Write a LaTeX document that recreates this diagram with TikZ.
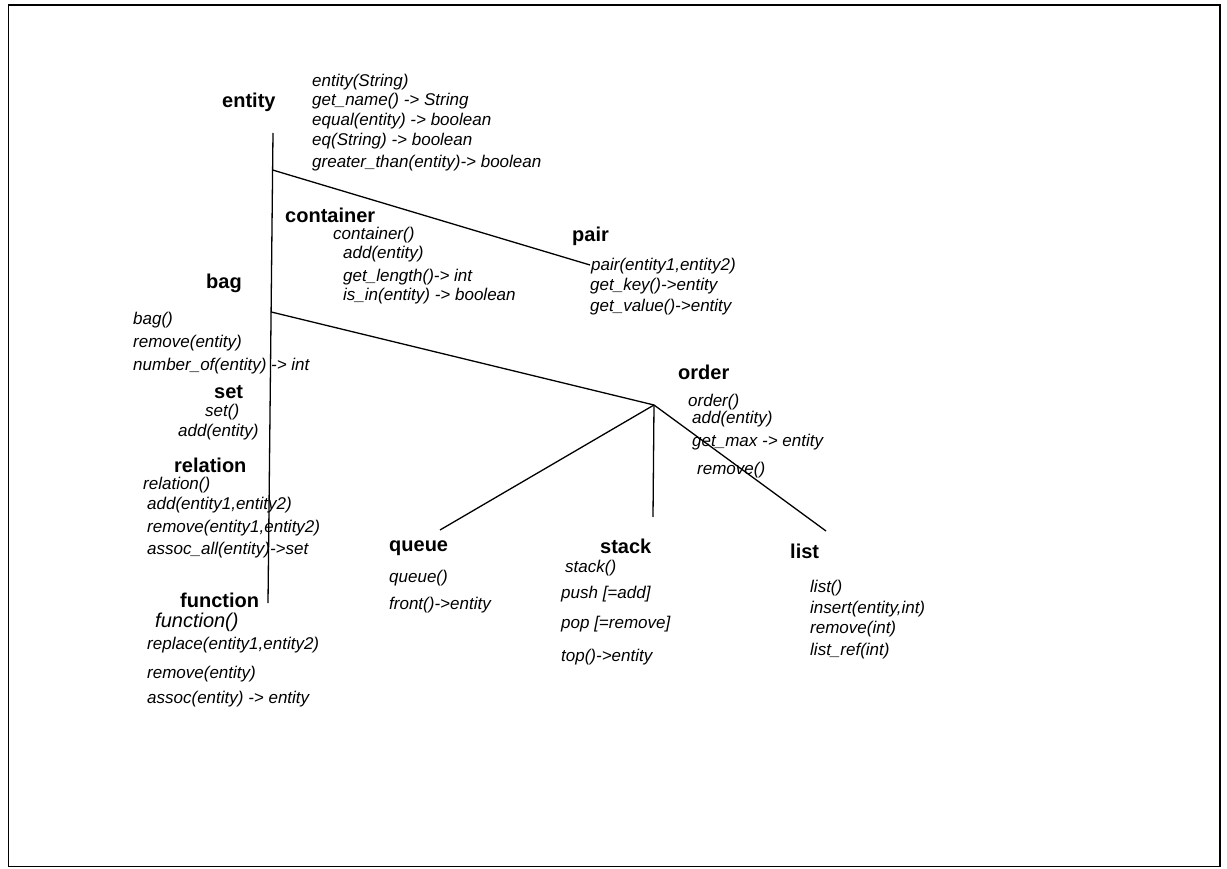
\documentclass[tikz,border=0pt]{standalone}
\usepackage{fontspec}
\setmainfont{Liberation Sans}
\begin{document}
\begin{tikzpicture}[x=1pt,y=-1pt,
  cls/.style={inner sep=0pt,anchor=west,font=\fontsize{20}{22}\selectfont\bfseries},
  mth/.style={inner sep=0pt,anchor=west,font=\fontsize{17}{19}\selectfont\itshape},
  edge/.style={line width=1.3pt,black}]
\useasboundingbox (0,0) rectangle (1227,869);
\draw[line width=1.4pt] (8.5,5) rectangle (1220,866.5);
% class names
\node[cls] (entity) at (222,102) {entity};
\node[cls] (container) at (285,215.5) {container};
\node[cls] (pair) at (572,236) {pair};
\node[cls] (bag) at (206,283) {bag};
\node[cls] (set) at (214,392) {set};
\node[cls] (relation) at (174,465) {relation};
\node[cls] (function) at (180,600.5) {function};
\node[cls] (order) at (678,372) {order};
\node[cls] (queue) at (389,548) {queue};
\node[cls] (stack) at (600,546) {stack};
\node[cls] (list) at (790,551) {list};
% methods
\node[mth] (m1) at (312,82) {entity(String)};
\node[mth] (m2) at (312,101) {get\_name() -> String};
\node[mth] (m3) at (312,121) {equal(entity) -> boolean};
\node[mth] (m4) at (312,141) {eq(String) -> boolean};
\node[mth] (m5) at (312,163) {greater\_than(entity)-> boolean};
\node[mth] (c1) at (333,235) {container()};
\node[mth] (c2) at (343,254) {add(entity)};
\node[mth] (c3) at (343,277) {get\_length()-> int};
\node[mth] (c4) at (343,296) {is\_in(entity) -> boolean};
\node[mth] (p1) at (591,266) {pair(entity1,entity2)};
\node[mth] (p2) at (590,286) {get\_key()->entity};
\node[mth] (p3) at (590,307) {get\_value()->entity};
\node[mth] (b1) at (133,320) {bag()};
\node[mth] (b2) at (133,343) {remove(entity)};
\node[mth] (b3) at (133,366) {number\_of(entity) -> int};
\node[mth] (s1) at (205,412) {set()};
\node[mth] (s2) at (178,432) {add(entity)};
\node[mth] (r1) at (143,485) {relation()};
\node[mth] (r2) at (147,505) {add(entity1,entity2)};
\node[mth] (r3) at (147,528) {remove(entity1,entity2)};
\node[mth] (r4) at (147,550) {assoc\_all(entity)->set};
\node[mth,font=\fontsize{20}{22}\selectfont\itshape] (f1) at (155,622.5) {function()};
\node[mth] (f2) at (147,645) {replace(entity1,entity2)};
\node[mth] (f3) at (147,674) {remove(entity)};
\node[mth] (f4) at (147,699) {assoc(entity) -> entity};
\node[mth] (o1) at (688,402) {order()};
\node[mth] (o2) at (692,419) {add(entity)};
\node[mth] (o3) at (692,442) {get\_max -> entity};
\node[mth] (o4) at (697,470) {remove()};
\node[mth] (q1) at (389,578) {queue()};
\node[mth] (q2) at (389,605) {front()->entity};
\node[mth] (k1) at (565,568) {stack()};
\node[mth] (k2) at (561,594) {push [=add]};
\node[mth] (k3) at (561,624) {pop [=remove]};
\node[mth] (k4) at (561,657) {top()->entity};
\node[mth] (l1) at (810,588) {list()};
\node[mth] (l2) at (810,609) {insert(entity,int)};
\node[mth] (l3) at (810,629) {remove(int)};
\node[mth] (l4) at (810,651) {list\_ref(int)};
% connector points
\coordinate (trunkTop) at (273,133);
\coordinate (trunkBot) at (268,603);
\coordinate (pairJoin) at (272.6,170);
\coordinate (pairEnd) at (590,265);
\coordinate (bagJoin) at (271.3,312);
\coordinate (orderPt) at (654,405);
\coordinate (queueEnd) at (440,530);
\coordinate (stackEnd) at (653,517);
\coordinate (listEnd) at (826,531);
\draw[edge] (trunkTop) -- (trunkBot);
\draw[edge] (pairJoin) -- (pairEnd);
\draw[edge] (bagJoin) -- (orderPt);
\draw[edge] (orderPt) -- (queueEnd);
\draw[edge] (orderPt) -- (stackEnd);
\draw[edge] (orderPt) -- (listEnd);
\end{tikzpicture}
\end{document}
